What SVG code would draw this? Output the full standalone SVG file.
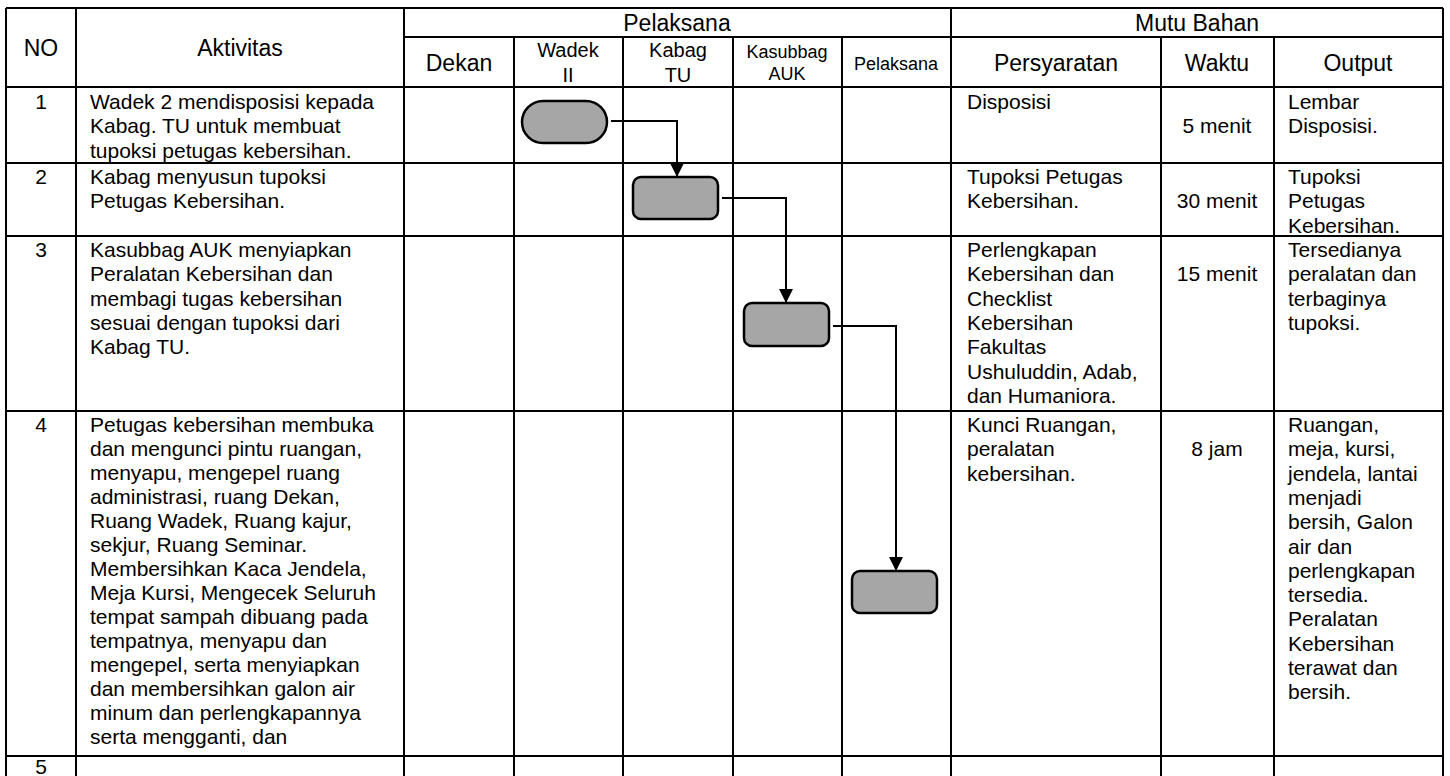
<svg xmlns="http://www.w3.org/2000/svg" width="1450" height="776" viewBox="0 0 1450 776">
<style>
.ln{stroke:#000;stroke-width:2;fill:none}
.t{font-family:"Liberation Sans",Arial,sans-serif;fill:#000}
.b{font-size:21px}
.h{font-size:23px;text-anchor:middle}
.h2{font-size:20px;text-anchor:middle}
.h3{font-size:18px;text-anchor:middle}
.c{text-anchor:middle}
.shape{fill:#a6a6a6;stroke:#000;stroke-width:2.5}
.conn{stroke:#000;stroke-width:2;fill:none;marker-end:url(#arr)}
</style>
<defs>
<marker id="arr" viewBox="0 0 14 14" refX="14" refY="7" markerWidth="14" markerHeight="14" markerUnits="userSpaceOnUse" orient="auto"><path d="M0,0 L14,7 L0,14 z" fill="#000"/></marker>
</defs>
<rect x="0" y="0" width="1450" height="776" fill="#fff"/>
<g id="table">
<path class="ln" d="M6,8 H1443 M404,37 H1443 M6,87 H1443 M6,163 H1443 M6,236 H1443 M6,411 H1443 M6,756 H1443"/>
<path class="ln" d="M6,8 V776 M76,8 V776 M404,8 V776 M951,8 V776 M1443,8 V776 M514,37 V776 M623,37 V776 M733,37 V776 M842,37 V776 M1161,37 V776 M1274,37 V776"/>
</g>
<g id="header" class="t">
<text class="h" x="41" y="56">NO</text>
<text class="h" x="240" y="56">Aktivitas</text>
<text class="h" x="677" y="31">Pelaksana</text>
<text class="h" x="1197" y="31">Mutu Bahan</text>
<text class="h" x="459" y="71">Dekan</text>
<text class="h2" x="568" y="57">Wadek<tspan x="568" y="82">II</tspan></text>
<text class="h2" x="678" y="57">Kabag<tspan x="678" y="82">TU</tspan></text>
<text class="h3" x="787" y="58">Kasubbag<tspan x="787" y="80">AUK</tspan></text>
<text class="h3" x="896" y="70">Pelaksana</text>
<text class="h" x="1056" y="71">Persyaratan</text>
<text class="h" x="1217" y="71">Waktu</text>
<text class="h" x="1358" y="71">Output</text>
</g>
<g id="row1" class="t b">
<text class="c" x="41" y="109">1</text>
<text x="90" y="109">Wadek 2 mendisposisi kepada<tspan x="90" dy="24.3">Kabag. TU untuk membuat</tspan><tspan x="90" dy="24.3">tupoksi petugas kebersihan.</tspan></text>
<text x="967" y="109">Disposisi</text>
<text class="c" x="1217" y="133.3">5 menit</text>
<text x="1288" y="109">Lembar<tspan x="1288" dy="24.3">Disposisi.</tspan></text>
</g>
<g id="row2" class="t b">
<text class="c" x="41" y="184">2</text>
<text x="90" y="184">Kabag menyusun tupoksi<tspan x="90" dy="24.3">Petugas Kebersihan.</tspan></text>
<text x="967" y="184">Tupoksi Petugas<tspan x="967" dy="24.3">Kebersihan.</tspan></text>
<text class="c" x="1217" y="208.3">30 menit</text>
<text x="1288" y="184">Tupoksi<tspan x="1288" dy="24.3">Petugas</tspan><tspan x="1288" dy="24.3">Kebersihan.</tspan></text>
</g>
<g id="row3" class="t b">
<text class="c" x="41" y="257">3</text>
<text x="90" y="257">Kasubbag AUK menyiapkan<tspan x="90" dy="24.3">Peralatan Kebersihan dan</tspan><tspan x="90" dy="24.3">membagi tugas kebersihan</tspan><tspan x="90" dy="24.3">sesuai dengan tupoksi dari</tspan><tspan x="90" dy="24.3">Kabag TU.</tspan></text>
<text x="967" y="257">Perlengkapan<tspan x="967" dy="24.3">Kebersihan dan</tspan><tspan x="967" dy="24.3">Checklist</tspan><tspan x="967" dy="24.3">Kebersihan</tspan><tspan x="967" dy="24.3">Fakultas</tspan><tspan x="967" dy="24.3">Ushuluddin, Adab,</tspan><tspan x="967" dy="24.3">dan Humaniora.</tspan></text>
<text class="c" x="1217" y="281.3">15 menit</text>
<text x="1288" y="257">Tersedianya<tspan x="1288" dy="24.3">peralatan dan</tspan><tspan x="1288" dy="24.3">terbaginya</tspan><tspan x="1288" dy="24.3">tupoksi.</tspan></text>
</g>
<g id="row4" class="t b">
<text class="c" x="41" y="432">4</text>
<text x="90" y="432">Petugas kebersihan membuka<tspan x="90" dy="24">dan mengunci pintu ruangan,</tspan><tspan x="90" dy="24">menyapu, mengepel ruang</tspan><tspan x="90" dy="24">administrasi, ruang Dekan,</tspan><tspan x="90" dy="24">Ruang Wadek, Ruang kajur,</tspan><tspan x="90" dy="24">sekjur, Ruang Seminar.</tspan><tspan x="90" dy="24">Membersihkan Kaca Jendela,</tspan><tspan x="90" dy="24">Meja Kursi, Mengecek Seluruh</tspan><tspan x="90" dy="24">tempat sampah dibuang pada</tspan><tspan x="90" dy="24">tempatnya, menyapu dan</tspan><tspan x="90" dy="24">mengepel, serta menyiapkan</tspan><tspan x="90" dy="24">dan membersihkan galon air</tspan><tspan x="90" dy="24">minum dan perlengkapannya</tspan><tspan x="90" dy="24">serta mengganti, dan</tspan></text>
<text x="967" y="432">Kunci Ruangan,<tspan x="967" dy="24.3">peralatan</tspan><tspan x="967" dy="24.3">kebersihan.</tspan></text>
<text class="c" x="1217" y="456.3">8 jam</text>
<text x="1288" y="432">Ruangan,<tspan x="1288" dy="24.3">meja, kursi,</tspan><tspan x="1288" dy="24.3">jendela, lantai</tspan><tspan x="1288" dy="24.3">menjadi</tspan><tspan x="1288" dy="24.3">bersih, Galon</tspan><tspan x="1288" dy="24.3">air dan</tspan><tspan x="1288" dy="24.3">perlengkapan</tspan><tspan x="1288" dy="24.3">tersedia.</tspan><tspan x="1288" dy="24.3">Peralatan</tspan><tspan x="1288" dy="24.3">Kebersihan</tspan><tspan x="1288" dy="24.3">terawat dan</tspan><tspan x="1288" dy="24.3">bersih.</tspan></text>
</g>
<g id="row5" class="t b">
<text class="c" x="41" y="774">5</text>
</g>
<g id="node-wadek"><rect class="shape" x="522" y="101" width="85" height="42" rx="21" ry="21"/></g>
<g id="node-kabag"><rect class="shape" x="633" y="177" width="85" height="42" rx="8" ry="8"/></g>
<g id="node-kasubbag"><rect class="shape" x="744" y="303" width="85" height="43" rx="8" ry="8"/></g>
<g id="node-pelaksana"><rect class="shape" x="852" y="571" width="85" height="42" rx="8" ry="8"/></g>
<g id="connectors">
<path class="conn" d="M611,121 H677 V177"/>
<path class="conn" d="M722,198 H786 V303"/>
<path class="conn" d="M833,326 H896 V571"/>
</g>
</svg>
